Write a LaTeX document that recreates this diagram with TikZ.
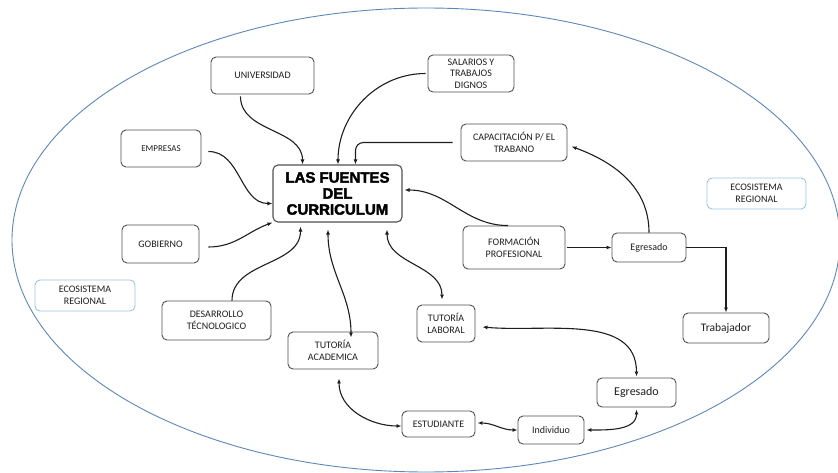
\documentclass[tikz,border=0pt]{standalone}
\usepackage{fontspec}
\setmainfont{Carlito}
\newfontfamily\titlefont[FakeBold=2.5]{Liberation Sans}
\usetikzlibrary{arrows.meta}

\definecolor{boxgray}{HTML}{505050}
\definecolor{ecoblue}{HTML}{9CC3E5}
\definecolor{ringblue}{HTML}{5D87B8}
\definecolor{inkgray}{HTML}{1E1E1E}

\begin{document}
\begin{tikzpicture}[x=1pt,y=1pt,
    box/.style={draw=boxgray, rounded corners=5pt, line width=0.9pt, align=center,
        text=inkgray, inner sep=0pt, font=\fontsize{10}{11.5}\selectfont},
    bluebox/.style={box, draw=ecoblue},
    link/.style={line width=1.1pt, draw=inkgray, -{Latex[length=5pt,width=4pt]}},
    both/.style={link, {Latex[length=5pt,width=4pt]}-{Latex[length=5pt,width=4pt]}}]
    \useasboundingbox (0,0) rectangle (838,472);
    \draw[ringblue, line width=0.9pt] (426,232) ellipse (414 and 232);

    \node[box, minimum width=129, minimum height=57, line width=1.1pt,
        font=\titlefont\bfseries\fontsize{15}{16}\selectfont, text=black] (fuentes) at (337.5,278.5) {LAS FUENTES\\DEL\\CURRICULUM};
    \node[box, minimum width=103, minimum height=37] (univ) at (262.5,396.5) {UNIVERSIDAD};
    \node[box, minimum width=80, minimum height=37, font=\fontsize{9}{10.5}\selectfont] (empresas) at (161,323.5) {EMPRESAS};
    \node[box, minimum width=77, minimum height=38] (gobierno) at (160.5,228) {GOBIERNO};
    \node[box, minimum width=86, minimum height=37] (salarios) at (471,398.5) {SALARIOS Y\\TRABAJOS\\DIGNOS};
    \node[box, minimum width=106, minimum height=37] (capacit) at (514,329.5) {CAPACITACI\'ON P/ EL\\TRABANO};
    \node[bluebox, minimum width=99, minimum height=31] (ecoright) at (756.5,278.5) {ECOSISTEMA\\REGIONAL};
    \node[box, minimum width=102, minimum height=43] (formacion) at (514,224.5) {FORMACI\'ON\\PROFESIONAL};
    \node[box, minimum width=74, minimum height=29] (egresadoA) at (649,224.5) {Egresado};
    \node[box, minimum width=86, minimum height=30, font=\fontsize{11.5}{13}\selectfont] (trabajador) at (726,144) {Trabajador};
    \node[bluebox, minimum width=100, minimum height=31] (ecoleft) at (85,176.5) {ECOSISTEMA\\REGIONAL};
    \node[box, minimum width=109, minimum height=39] (desarrollo) at (216.5,151.5) {DESARROLLO\\T\'ECNOLOGICO};
    \node[box, minimum width=90, minimum height=37] (tutacad) at (333,121.5) {TUTOR\'IA\\ACADEMICA};
    \node[box, minimum width=58, minimum height=37] (tutlab) at (446,148.5) {TUTOR\'IA\\LABORAL};
    \node[box, minimum width=79, minimum height=29, font=\fontsize{12}{14}\selectfont] (egresadoB) at (636.5,79.5) {Egresado};
    \node[box, minimum width=73, minimum height=26] (estudiante) at (438.5,48) {ESTUDIANTE};
    \node[box, minimum width=66, minimum height=28] (individuo) at (551,42) {Individuo};

    % sources into the centre
    \draw[link] ([xshift=-22pt,yshift=-2pt]univ.south) to[out=-90,in=90] ([xshift=-35pt]fuentes.north);
    \draw[link] ([xshift=-2pt]salarios.west) to[out=180,in=90] ([xshift=0.5pt]fuentes.north);
    \draw[link, rounded corners=8pt] ([xshift=-8pt]capacit.west) -| ([xshift=18pt]fuentes.north);
    \draw[link] ([xshift=7pt,yshift=-3pt]empresas.east) to[out=0,in=180] ([yshift=-10pt]fuentes.west);
    \draw[link] ([xshift=9pt,yshift=-3pt]gobierno.east) to[out=0,in=200] (fuentes.south west);
    \draw[link] ([xshift=15.5pt]desarrollo.north) to[out=90,in=-90] ([xshift=-37pt,yshift=-4pt]fuentes.south);
    \draw[link] ([xshift=-6pt]formacion.north) to[out=180,in=0] ([xshift=2pt,yshift=3.5pt]fuentes.east);
    \draw[both] ([xshift=-9.5pt,yshift=-7pt]fuentes.south) to[out=-90,in=90] ([xshift=18pt,yshift=-6pt]tutacad.north);
    \draw[both] ([xshift=49.5pt,yshift=-7pt]fuentes.south) to[out=-90,in=90] ([xshift=-4pt,yshift=5pt]tutlab.north);

    % egresado side
    \draw[link] ([xshift=2pt]formacion.east) -- (egresadoA.west);
    \draw[link] (egresadoA.north) to[out=90,in=-20] ([shift={(4pt,-4pt)}]capacit.east);
    \draw[link] (egresadoA.east) -| (trabajador.north);

    % lower loop
    \draw[both] ([xshift=7pt,yshift=-3.5pt]tutlab.east) to[out=-5,in=90] ([yshift=1pt]egresadoB.north);
    \draw[both] ([yshift=-2pt]egresadoB.south) to[out=-90,in=0] ([xshift=2pt]individuo.east);
    \draw[both] ([xshift=2pt,yshift=1pt]estudiante.east) to[out=0,in=180] (individuo.west);
    \draw[both] ([xshift=6pt,yshift=-9pt]tutacad.south) to[out=-90,in=180] ([yshift=-2pt]estudiante.west);
\end{tikzpicture}
\end{document}
